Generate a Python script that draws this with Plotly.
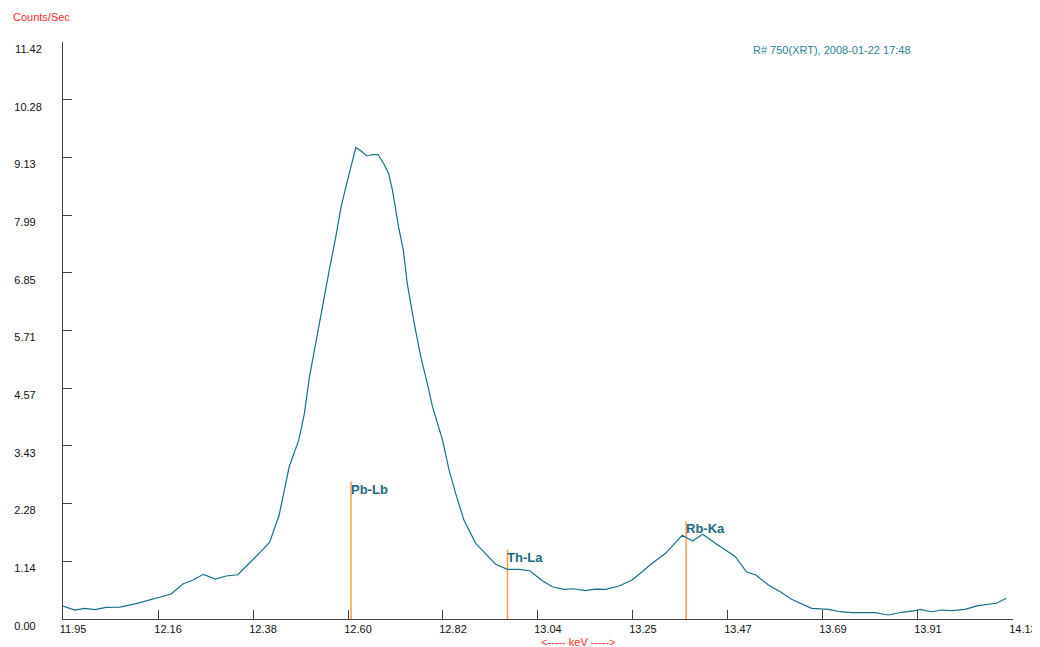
import plotly.graph_objects as go

# ---- spectrum data ----
energy_kev = [11.950, 11.977, 12.000, 12.023, 12.049, 12.080, 12.118, 12.149, 12.172, 12.198,
              12.225, 12.248, 12.272, 12.300, 12.324, 12.351, 12.385, 12.424, 12.446, 12.469,
              12.491, 12.504, 12.515, 12.531, 12.546, 12.561, 12.576, 12.588, 12.601, 12.622,
              12.634, 12.647, 12.660, 12.673, 12.687, 12.697, 12.706, 12.720, 12.731, 12.740,
              12.756, 12.771, 12.786, 12.798, 12.821, 12.836, 12.851, 12.870, 12.897, 12.920,
              12.943, 12.970, 12.996, 13.021, 13.050, 13.073, 13.099, 13.122, 13.149, 13.172,
              13.195, 13.226, 13.256, 13.279, 13.302, 13.333, 13.355, 13.371, 13.395, 13.418,
              13.447, 13.470, 13.493, 13.519, 13.540, 13.569, 13.596, 13.622, 13.649, 13.668,
              13.707, 13.733, 13.760, 13.814, 13.844, 13.875, 13.905, 13.917, 13.943, 13.966,
              13.989, 14.020, 14.050, 14.092, 14.115]
counts_per_sec = [0.257, 0.178, 0.212, 0.184, 0.231, 0.237, 0.303, 0.376, 0.429, 0.495,
                  0.692, 0.772, 0.884, 0.791, 0.851, 0.876, 1.167, 1.517, 2.057, 3.013,
                  3.541, 4.069, 4.768, 5.519, 6.245, 6.904, 7.563, 8.156, 8.619, 9.331,
                  9.264, 9.165, 9.193, 9.193, 8.995, 8.817, 8.487, 7.761, 7.300, 6.641,
                  5.850, 5.189, 4.663, 4.200, 3.541, 2.948, 2.487, 1.958, 1.498, 1.300,
                  1.082, 0.983, 0.983, 0.955, 0.758, 0.639, 0.588, 0.599, 0.560, 0.593,
                  0.588, 0.653, 0.772, 0.936, 1.102, 1.300, 1.498, 1.656, 1.543, 1.676,
                  1.498, 1.365, 1.232, 0.930, 0.870, 0.673, 0.540, 0.390, 0.277, 0.212,
                  0.192, 0.144, 0.125, 0.125, 0.079, 0.133, 0.164, 0.192, 0.144, 0.178,
                  0.164, 0.192, 0.263, 0.311, 0.410]

# ---- element line markers ----
line_labels = ["Pb-Lb", "Th-La", "Rb-Ka"]
line_energies = [12.611, 12.970, 13.380]
line_heights = [2.716, 1.37, 1.93]

# ---- axis ticks ----
x_tick_values = [11.95, 12.168, 12.386, 12.604, 12.822, 13.04, 13.258, 13.476, 13.694, 13.912, 14.13]
x_tick_labels = ["11.95", "12.16", "12.38", "12.60", "12.82", "13.04", "13.25", "13.47", "13.69", "13.91", "14.13"]
y_tick_values = [0, 1.142, 2.284, 3.426, 4.568, 5.71, 6.852, 7.994, 9.136, 10.278, 11.42]
y_tick_labels = ["0.00", "1.14", "2.28", "3.43", "4.57", "5.71", "6.85", "7.99", "9.13", "10.28", "11.42"]

header_text = "R# 750(XRT), 2008-01-22 17:48"
y_title = "Counts/Sec"
x_title = "<----- keV ----->"

FONT = "Liberation Sans, Arial, sans-serif"
TEAL = "#16708a"
ORANGE = "#ff9c3c"
AXIS = "#444444"

fig = go.Figure()

# marker lines (vertical sticks) built from the arrays
mx, my = [], []
for e, h in zip(line_energies, line_heights):
    mx += [e, e, None]
    my += [0, h, None]
fig.add_trace(go.Scatter(x=mx, y=my, mode="lines",
                         line=dict(color=ORANGE, width=1.5),
                         hoverinfo="skip", showlegend=False))

fig.add_trace(go.Scatter(x=energy_kev, y=counts_per_sec, mode="lines",
                         line=dict(color=TEAL, width=1.2),
                         showlegend=False))

for lab, e, h in zip(line_labels, line_energies, line_heights):
    fig.add_annotation(x=e, y=h, xref="x", yref="y", text="<b>%s</b>" % lab,
                       showarrow=False, xanchor="left", yanchor="top",
                       xshift=-2, yshift=2,
                       font=dict(family=FONT, size=13, color="#1c6a80"))

def pad(s):
    return s + "\u2007" * (5 - len(s))

fig.update_xaxes(range=[11.9499, 14.1302], tickmode="array",
                 tickvals=x_tick_values, ticktext=x_tick_labels,
                 ticks="inside", ticklen=9, tickwidth=1, tickcolor=AXIS,
                 showline=True, linecolor=AXIS, linewidth=1,
                 showgrid=False, zeroline=False, automargin=False,
                 ticklabelshift=10, ticklabelstandoff=0, ticklabeloverflow="allow",
                 tickfont=dict(family=FONT, size=11, color="#111111"))
fig.update_yaxes(range=[0, 11.4205], tickmode="array",
                 tickvals=y_tick_values, ticktext=[pad(s) for s in y_tick_labels],
                 ticks="inside", ticklen=9, tickwidth=1, tickcolor=AXIS,
                 showline=True, linecolor=AXIS, linewidth=1,
                 showgrid=False, zeroline=False, automargin=False,
                 ticklabelshift=7, ticklabelstandoff=18, ticklabeloverflow="allow",
                 tickfont=dict(family=FONT, size=11, color="#111111"))

fig.add_annotation(x=-0.0547, y=1.0425, xref="paper", yref="paper", text=y_title,
                   showarrow=False, xanchor="left", yanchor="middle",
                   font=dict(family=FONT, size=11, color="#ff2a2a"))
fig.add_annotation(x=0.501, y=-0.0392, xref="paper", yref="paper", text=x_title,
                   showarrow=False, xanchor="left", yanchor="middle",
                   font=dict(family=FONT, size=11, color="#ff2a2a"))
fig.add_annotation(x=0.7242, y=0.987, xref="paper", yref="paper", text=header_text,
                   showarrow=False, xanchor="left", yanchor="middle",
                   font=dict(family=FONT, size=11, color="#2e8296"))

# the page body has an 8px margin, so the figure is sized to fill the rest
fig.update_layout(width=1032, height=639,
                  margin=dict(l=55, r=27, t=34, b=28, autoexpand=False),
                  paper_bgcolor="white", plot_bgcolor="white",
                  hovermode=False)

fig.write_html("out.html")
